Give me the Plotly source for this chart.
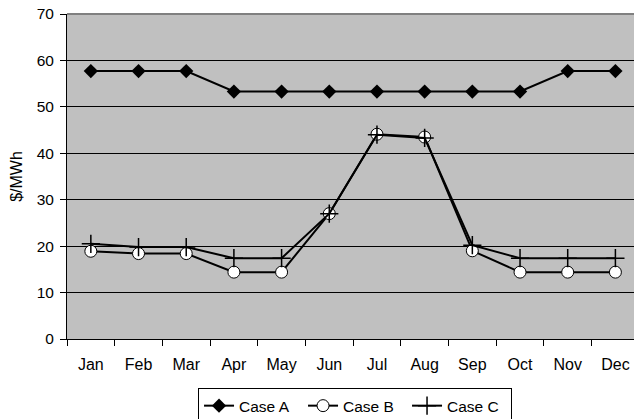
import plotly.graph_objects as go

months = ["Jan", "Feb", "Mar", "Apr", "May", "Jun", "Jul", "Aug", "Sep", "Oct", "Nov", "Dec"]
case_a = [57.7, 57.7, 57.7, 53.3, 53.3, 53.3, 53.3, 53.3, 53.3, 53.3, 57.7, 57.7]
case_b = [18.9, 18.4, 18.4, 14.4, 14.4, 27.0, 44.1, 43.5, 19.0, 14.4, 14.4, 14.4]
case_c = [20.5, 19.8, 19.8, 17.4, 17.4, 27.0, 44.0, 43.3, 20.2, 17.4, 17.4, 17.4]

fig = go.Figure()
fig.add_trace(go.Scatter(x=months, y=case_a, name="Case A", mode="lines+markers",
                         line=dict(color="black", width=2),
                         marker=dict(symbol="diamond", size=11, color="black")))
fig.add_trace(go.Scatter(x=months, y=case_b, name="Case B", mode="lines+markers",
                         line=dict(color="black", width=2),
                         marker=dict(symbol="circle", size=12, color="white",
                                     line=dict(color="black", width=1))))
fig.add_trace(go.Scatter(x=months, y=case_c, name="Case C", mode="lines+markers",
                         line=dict(color="black", width=2),
                         marker=dict(symbol="cross-thin", size=13, color="black",
                                     line=dict(color="black", width=1.5))))

fig.update_layout(
    width=636, height=419,
    margin=dict(l=67, r=2, t=14, b=80, autoexpand=False),
    paper_bgcolor="white",
    plot_bgcolor="#C0C0C0",
    font=dict(family="Liberation Sans, Arial", size=16, color="black"),
    showlegend=True,
    legend=dict(orientation="h", x=0.508, xanchor="center", y=-0.151, yanchor="top",
                bordercolor="black", borderwidth=1, bgcolor="white",
                font=dict(size=15.5), tracegroupgap=0, entrywidth=59),
    xaxis=dict(type="category", range=[-0.5, 11.39], showgrid=False, tickson="boundaries",
               ticks="outside", ticklen=6, tickcolor="black", showline=True,
               linecolor="black", linewidth=1, mirror=False, zeroline=False,
               ticklabelstandoff=11, automargin=False),
    yaxis=dict(range=[0, 70], dtick=10, showgrid=True, gridcolor="black", gridwidth=1,
               ticks="outside", ticklen=6, tickcolor="black", showline=True,
               linecolor="black", linewidth=1, zeroline=False, automargin=False,
               tickfont=dict(size=15.5), ticklabelstandoff=3,
               title=dict(text="$/MWh", font=dict(size=16), standoff=10)),
)
fig.add_shape(type="line", xref="paper", yref="paper", x0=0, x1=1, y0=1, y1=1,
              line=dict(color="#808080", width=2))
fig.write_html("out.html", config={"displayModeBar": False},
               post_script="document.body.style.margin='0';")
